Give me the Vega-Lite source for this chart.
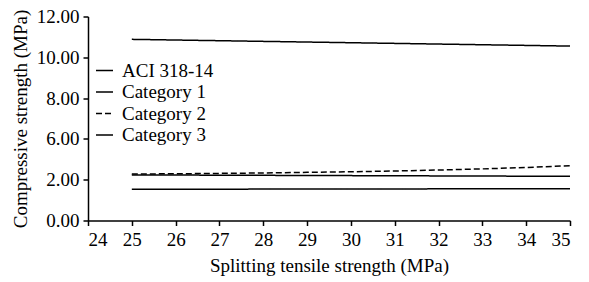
{
  "$schema": "https://vega.github.io/schema/vega-lite/v6.json",
  "width": 482,
  "height": 204,
  "autosize": {"type": "none"},
  "padding": {"left": 88, "top": 16.5, "right": 19, "bottom": 61.5},
  "background": "white",
  "config": {
    "view": {"stroke": null},
    "font": "Liberation Serif",
    "axis": {
      "labelFont": "Liberation Serif",
      "titleFont": "Liberation Serif",
      "labelFontSize": 19,
      "titleFontSize": 19,
      "titleFontWeight": "normal",
      "labelColor": "black",
      "titleColor": "black",
      "domainColor": "black",
      "tickColor": "black",
      "domainWidth": 1.5,
      "tickWidth": 1.5,
      "tickSize": 5,
      "grid": false
    }
  },
  "data": {
    "values": [
      {"x": 25, "y": 10.88, "series": "ACI 318-14"},
      {"x": 35, "y": 10.55, "series": "ACI 318-14"},
      {"x": 25, "y": 2.47, "series": "Category 1"},
      {"x": 35, "y": 2.33, "series": "Category 1"},
      {"x": 25, "y": 2.56, "series": "Category 2"},
      {"x": 26, "y": 2.58, "series": "Category 2"},
      {"x": 27, "y": 2.62, "series": "Category 2"},
      {"x": 28, "y": 2.66, "series": "Category 2"},
      {"x": 29, "y": 2.72, "series": "Category 2"},
      {"x": 30, "y": 2.78, "series": "Category 2"},
      {"x": 31, "y": 2.85, "series": "Category 2"},
      {"x": 32, "y": 2.95, "series": "Category 2"},
      {"x": 33, "y": 3.06, "series": "Category 2"},
      {"x": 34, "y": 3.2, "series": "Category 2"},
      {"x": 35, "y": 3.37, "series": "Category 2"},
      {"x": 25, "y": 1.53, "series": "Category 3"},
      {"x": 35, "y": 1.56, "series": "Category 3"}
    ]
  },
  "mark": {"type": "line", "strokeWidth": 1.5, "color": "black"},
  "encoding": {
    "x": {
      "field": "x",
      "type": "quantitative",
      "scale": {"domain": [24, 35], "nice": false, "zero": false},
      "axis": {
        "values": [24, 25, 26, 27, 28, 29, 30, 31, 32, 33, 34, 35],
        "format": "d",
        "title": "Splitting tensile strength (MPa)",
        "labelPadding": 5,
        "titlePadding": 7
      }
    },
    "y": {
      "field": "y",
      "type": "quantitative",
      "scale": {"domain": [0, 2, 6, 12], "range": [204, 163.2, 122.4, 0], "nice": false, "zero": false},
      "axis": {
        "values": [0, 2, 6, 8, 10, 12],
        "format": ".2f",
        "title": "Compressive strength (MPa)",
        "labelPadding": 4,
        "titlePadding": 6
      }
    },
    "strokeDash": {
      "field": "series",
      "type": "nominal",
      "scale": {
        "domain": ["ACI 318-14", "Category 1", "Category 2", "Category 3"],
        "range": [[1, 0], [1, 0], [6, 3], [1, 0]]
      },
      "legend": {
        "orient": "none",
        "legendX": 7,
        "legendY": 44.5,
        "title": null,
        "symbolType": "stroke",
        "symbolStrokeColor": "black",
        "symbolStrokeWidth": 1.5,
        "symbolSize": 289,
        "labelFont": "Liberation Serif",
        "labelFontSize": 19,
        "labelColor": "black",
        "labelOffset": 8,
        "rowPadding": 1.5,
        "padding": 0
      }
    },
    "order": {"field": "x", "type": "quantitative"}
  }
}
